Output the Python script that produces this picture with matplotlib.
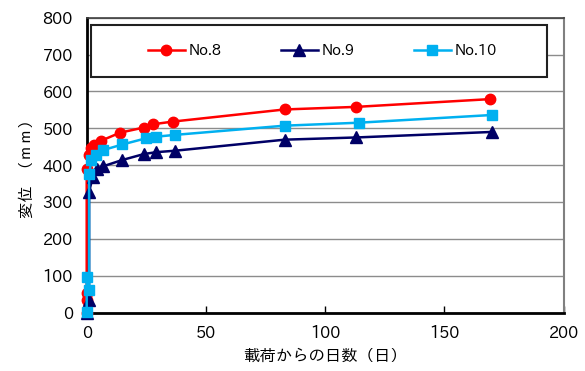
import matplotlib
matplotlib.use("Agg")
import matplotlib.pyplot as plt
from matplotlib.patches import Rectangle
from matplotlib.lines import Line2D

FAM = ['IPAPGothic', 'Noto Sans CJK JP', 'DejaVu Sans']
LAB = ['IPAGothic', 'Noto Sans CJK JP', 'DejaVu Sans']
plt.rcParams['font.family'] = FAM

# data
no8_x = [0, 0, 0, 0, 1, 2, 3, 6, 14, 24, 28, 36, 83, 113, 169]
no8_y = [0, 35, 52, 389, 427, 447, 455, 466, 488, 502, 511, 518, 551, 558, 579]
no9_x = [0, 1, 1, 2.5, 4.5, 7, 15, 24, 29, 37, 83, 113, 170]
no9_y = [0, 34, 327, 368, 389, 397, 414, 430, 435, 439, 469, 475, 490]
no10_x = [0, 0, 1, 1, 2, 4, 7, 15, 25, 29, 37, 83, 114, 170]
no10_y = [2, 97, 61, 375, 414, 427, 441, 456, 473, 477, 482, 507, 515, 536]
labels = ['No.8', 'No.9', 'No.10']
xticks = [0, 50, 100, 150, 200]
yticks = [0, 100, 200, 300, 400, 500, 600, 700, 800]

fig = plt.figure(figsize=(5.85, 3.71), dpi=100)
ax = fig.add_axes([86.7/585, 1-312.5/371, (563.7-86.7)/585, (312.5-17.7)/371])

c8, c9, c10 = '#FF0000', '#000066', '#00B0F0'
ax.plot(no8_x, no8_y, color=c8, lw=1.8, marker='o', ms=7.5, clip_on=False, zorder=3)
ax.plot(no10_x, no10_y, color=c10, lw=1.8, marker='s', ms=7, clip_on=False, zorder=4)
ax.plot(no9_x, no9_y, color=c9, lw=1.8, marker='^', ms=8, clip_on=False, zorder=3)

ax.set_xlim(0, 200)
ax.set_ylim(0, 800)
ax.set_xticks(xticks)
ax.set_yticks(yticks)
ax.yaxis.grid(True, color='#8c8c8c', lw=1)
ax.set_axisbelow(True)
ax.tick_params(axis='y', length=0, pad=10, labelsize=11.5)
ax.tick_params(axis='x', direction='in', length=5, width=1, pad=9, labelsize=11.5)
for s in ['left', 'bottom']:
    ax.spines[s].set_linewidth(2)
    ax.spines[s].set_color('black')
ax.spines['top'].set_color('#404040')
ax.spines['top'].set_linewidth(1.2)
ax.spines['right'].set_color('#808080')
ax.spines['right'].set_linewidth(1.5)

ax.set_xlabel('載荷からの日数（日）', family=LAB, fontsize=11.8, labelpad=5)
ax.set_ylabel('変位 （ｍｍ）', family=LAB, fontsize=11.8, labelpad=6)

# legend box
x0 = (90.7-86.7)/477
x1 = (547.3-86.7)/477
yb = (312.5-77.3)/294.8
yt = (312.5-25)/294.8
ax.add_patch(Rectangle((x0, yb), x1-x0, yt-yb, transform=ax.transAxes,
                       facecolor='white', edgecolor='#202020', lw=1.5, zorder=5))
handles = [Line2D([], [], color=c8, lw=1.8, marker='o', ms=7.5),
           Line2D([], [], color=c9, lw=1.8, marker='^', ms=8),
           Line2D([], [], color=c10, lw=1.8, marker='s', ms=7)]
leg = ax.legend(handles, labels, loc='center', bbox_to_anchor=(0.494, (yb+yt)/2),
                ncol=3, frameon=False, fontsize=10.5, handlelength=2.5,
                handletextpad=0.25, columnspacing=4.1, numpoints=1)
leg.set_zorder(6)

fig.savefig('out.png', dpi=100)
